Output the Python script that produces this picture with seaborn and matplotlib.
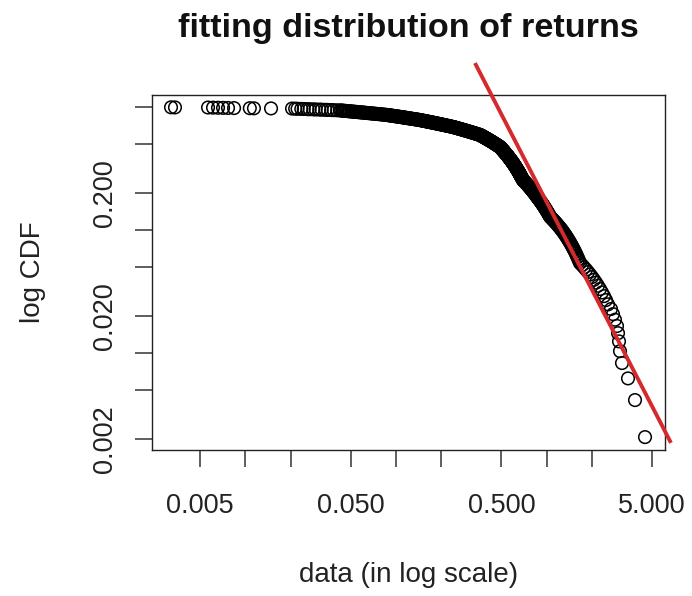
import numpy as np
import matplotlib
matplotlib.use("Agg")
import matplotlib.pyplot as plt
import matplotlib.ticker as mticker
import seaborn as sns

# ---- data (returns; CCDF is computed from them) ----
returns_low = [0.00321, 0.00341, 0.00565, 0.00610, 0.00658, 0.00711, 0.00767,
               0.00841, 0.0107, 0.0114, 0.0148, 0.0204]
returns_b = [0.0214, 0.0222, 0.0235, 0.0244, 0.0258, 0.0267, 0.0282, 0.0293,
             0.0309, 0.0321, 0.0339, 0.0352, 0.0371, 0.0386, 0.0407, 0.0425]
returns_c = [0.0433, 0.0442, 0.0451, 0.0459, 0.0468, 0.0478, 0.0487, 0.0496,
             0.0506, 0.0516, 0.0526, 0.0537, 0.0547, 0.0558, 0.0569, 0.0580,
             0.0591, 0.0603, 0.0615, 0.0627, 0.0639, 0.0651, 0.0664, 0.0677,
             0.0691, 0.0704, 0.0718, 0.0732, 0.0746, 0.0761, 0.0776, 0.0791,
             0.0807, 0.0822, 0.0838, 0.0855, 0.0871]
returns_d = [0.0883, 0.0894, 0.0906, 0.0919, 0.0931, 0.0943, 0.0956, 0.0969,
             0.0982, 0.0995, 0.101, 0.102, 0.104, 0.105, 0.106, 0.108, 0.109,
             0.111, 0.112, 0.114, 0.115, 0.117, 0.118, 0.120, 0.121, 0.123,
             0.125, 0.126, 0.128, 0.130, 0.132, 0.133, 0.135, 0.137, 0.139,
             0.141, 0.142, 0.144]
returns_e = [0.1459, 0.1475, 0.1491, 0.1508, 0.1524, 0.1541, 0.1558, 0.1575,
             0.1593, 0.1610, 0.1628, 0.1646, 0.1664, 0.1683, 0.1701, 0.1720,
             0.1739, 0.1758, 0.1777, 0.1797, 0.1817, 0.1837, 0.1857, 0.1878,
             0.1898, 0.1919, 0.1941, 0.1962, 0.1984, 0.2005, 0.2028, 0.2050,
             0.2073, 0.2095, 0.2119, 0.2142, 0.2166, 0.2190, 0.2214, 0.2238,
             0.2263, 0.2288, 0.2313, 0.2339, 0.2365, 0.2391]
returns_f = [0.2413, 0.2434, 0.2456, 0.2478, 0.2501, 0.2523, 0.2546, 0.2569,
             0.2592, 0.2615, 0.2639, 0.2663, 0.2687, 0.2711, 0.2735, 0.2760,
             0.2785, 0.2810, 0.2835, 0.2861, 0.2886, 0.2912, 0.2939, 0.2965,
             0.2992, 0.3019, 0.3046, 0.3073, 0.3101, 0.3129, 0.3157, 0.3186,
             0.3214, 0.3243, 0.3272, 0.3302, 0.3332, 0.3362, 0.3392, 0.3423,
             0.3454, 0.3485, 0.3516, 0.3548, 0.3580, 0.3612]
returns_g = [0.3631, 0.3650, 0.3670, 0.3689, 0.3709, 0.3728, 0.3748, 0.3768,
             0.3788, 0.3808, 0.3828, 0.3848, 0.3868, 0.3889, 0.3909, 0.3930,
             0.3951, 0.3972, 0.3993, 0.4014, 0.4035, 0.4056, 0.4078, 0.4099,
             0.4121, 0.4143, 0.4164, 0.4186, 0.4209, 0.4231, 0.4253, 0.4276,
             0.4298, 0.4321, 0.4344, 0.4367, 0.4390, 0.4413, 0.4436, 0.4460,
             0.4483, 0.4507, 0.4531, 0.4555, 0.4579, 0.4603, 0.4628, 0.4652,
             0.4677, 0.4701, 0.4726, 0.4751, 0.4777, 0.4802, 0.4827, 0.4853,
             0.4879, 0.4904]
returns_h = [0.4916, 0.4932, 0.4949, 0.4966, 0.4982, 0.4999, 0.5016, 0.5033,
             0.5050, 0.5067, 0.5084, 0.5101, 0.5118, 0.5135, 0.5153, 0.5170,
             0.5188, 0.5205, 0.5223, 0.5240, 0.5258, 0.5276, 0.5294, 0.5311,
             0.5329, 0.5347, 0.5365, 0.5384, 0.5402, 0.5420, 0.5438, 0.5457,
             0.5475, 0.5494, 0.5512, 0.5531, 0.5550, 0.5568, 0.5587, 0.5606,
             0.5625, 0.5644, 0.5663, 0.5682, 0.5702, 0.5721, 0.5740, 0.5760,
             0.5779, 0.5799, 0.5818, 0.5838, 0.5858, 0.5877, 0.5897, 0.5917,
             0.5937, 0.5957, 0.5975]
returns_i = [0.5995, 0.6015, 0.6035, 0.6055, 0.6075, 0.6095, 0.6116, 0.6136,
             0.6156, 0.6177, 0.6197, 0.6218, 0.6239, 0.6259, 0.6280, 0.6301,
             0.6322, 0.6343, 0.6364, 0.6385, 0.6406, 0.6427, 0.6449, 0.6470,
             0.6492, 0.6513, 0.6535, 0.6557, 0.6578, 0.6600, 0.6622, 0.6644,
             0.6666, 0.6688, 0.6710, 0.6733, 0.6755, 0.6778, 0.6800, 0.6823,
             0.6845, 0.6868, 0.6891, 0.6914, 0.6937, 0.6964]
returns_j = [0.7009, 0.7055, 0.7101, 0.7147, 0.7193, 0.7240, 0.7287, 0.7334,
             0.7382, 0.7430, 0.7478, 0.7527, 0.7576, 0.7625, 0.7675, 0.7724,
             0.7775, 0.7825, 0.7876, 0.7927, 0.7979, 0.8031, 0.8083, 0.8136,
             0.8188, 0.8242, 0.8295, 0.8349, 0.8403, 0.8458, 0.8513, 0.8568,
             0.8624]
returns_k = [0.8685, 0.8747, 0.8810, 0.8872, 0.8935, 0.8999, 0.9063, 0.9128,
             0.9193, 0.9258, 0.9324, 0.9391, 0.9458, 0.9525, 0.9593, 0.9661,
             0.9730, 0.9799, 0.9869, 0.9939, 1.001, 1.008, 1.016, 1.023,
             1.030, 1.038, 1.045, 1.052]
returns_l = [1.066, 1.080, 1.094, 1.108, 1.123, 1.138, 1.153, 1.168, 1.183,
             1.199, 1.215, 1.231, 1.247, 1.264]
returns_m = [1.280, 1.296, 1.312, 1.329, 1.345, 1.362, 1.379, 1.397, 1.414,
             1.432, 1.450, 1.468, 1.487, 1.505, 1.524, 1.544, 1.563, 1.583,
             1.602, 1.623, 1.643, 1.664]
returns_n = [1.716, 1.769, 1.824, 1.881, 1.939, 1.999]
returns_tail = [2.061, 2.125, 2.190, 2.258, 2.328, 2.401, 2.475, 2.552, 2.672,
                2.755, 2.841, 2.929, 2.974, 3.020, 3.066, 3.161, 3.465, 3.856,
                4.494]

# fitted power-law line (endpoints)
fit_x = [0.334, 6.68]
fit_y = [2.29, 0.00187]

x_ticks = [0.005, 0.01, 0.02, 0.05, 0.1, 0.2, 0.5, 1, 2, 5]
x_tick_labels = ["0.005", "", "", "0.050", "", "", "0.500", "", "", "5.000"]
y_ticks = [0.002, 0.005, 0.01, 0.02, 0.05, 0.1, 0.2, 0.5, 1.0]
y_tick_labels = ["0.002", "", "", "0.020", "", "", "0.200", "", ""]

title = "fitting distribution of returns"
x_label = "data (in log scale)"
y_label = "log CDF"

# ---- CCDF: P(X >= x) ----
returns = np.sort(np.array(returns_low + returns_b + returns_c + returns_d +
                           returns_e + returns_f + returns_g + returns_h +
                           returns_i + returns_j + returns_k + returns_l +
                           returns_m + returns_n + returns_tail))
n = len(returns)
ccdf = (n - np.arange(n)) / n

sns.set_theme(style="white")
plt.rcParams["font.family"] = ["Liberation Sans", "DejaVu Sans"]

fig = plt.figure(figsize=(6.92, 5.96), dpi=100)
ax = fig.add_axes([0.2197, 0.245, 0.7413, 0.5956])

sns.scatterplot(x=returns, y=ccdf, ax=ax, marker="o", s=82,
                facecolor="none", edgecolor="black", linewidth=1.1,
                legend=False, zorder=2)
ax.plot(fit_x, fit_y, color="#d42a2d", lw=2.8, clip_on=False, zorder=3,
        solid_capstyle="butt")

ax.set_xscale("log")
ax.set_yscale("log")
ax.set_xlim(0.002401, 6.10)
ax.set_ylim(0.001637, 1.259)

ax.xaxis.set_major_locator(mticker.FixedLocator(x_ticks))
ax.xaxis.set_major_formatter(mticker.FixedFormatter(x_tick_labels))
ax.yaxis.set_major_locator(mticker.FixedLocator(y_ticks))
ax.yaxis.set_major_formatter(mticker.FixedFormatter(y_tick_labels))
ax.xaxis.set_minor_locator(mticker.NullLocator())
ax.yaxis.set_minor_locator(mticker.NullLocator())

ax.tick_params(axis="both", which="major", direction="out", length=12.2,
               width=1.1, color="#333333", labelcolor="#222222",
               labelsize=19.5, bottom=True, left=True)
ax.tick_params(axis="x", pad=18.5)
ax.tick_params(axis="y", pad=12, labelrotation=90)
for lab in ax.get_yticklabels():
    lab.set_verticalalignment("center")

for sp in ax.spines.values():
    sp.set_color("#222222")
    sp.set_linewidth(1.0)
    sp.set_visible(True)
ax.grid(False)

ax.set_xlabel(x_label, fontsize=20, color="#222222")
ax.xaxis.set_label_coords(0.5, -0.3155)
ax.set_ylabel(y_label, fontsize=20, color="#222222")
ax.yaxis.set_label_coords(-0.2075, 0.5)
ax.set_title(title, fontsize=24.6, fontweight="bold", color="#111111",
             y=1.163, pad=0)

fig.savefig("out.png", dpi=100, facecolor="white")
